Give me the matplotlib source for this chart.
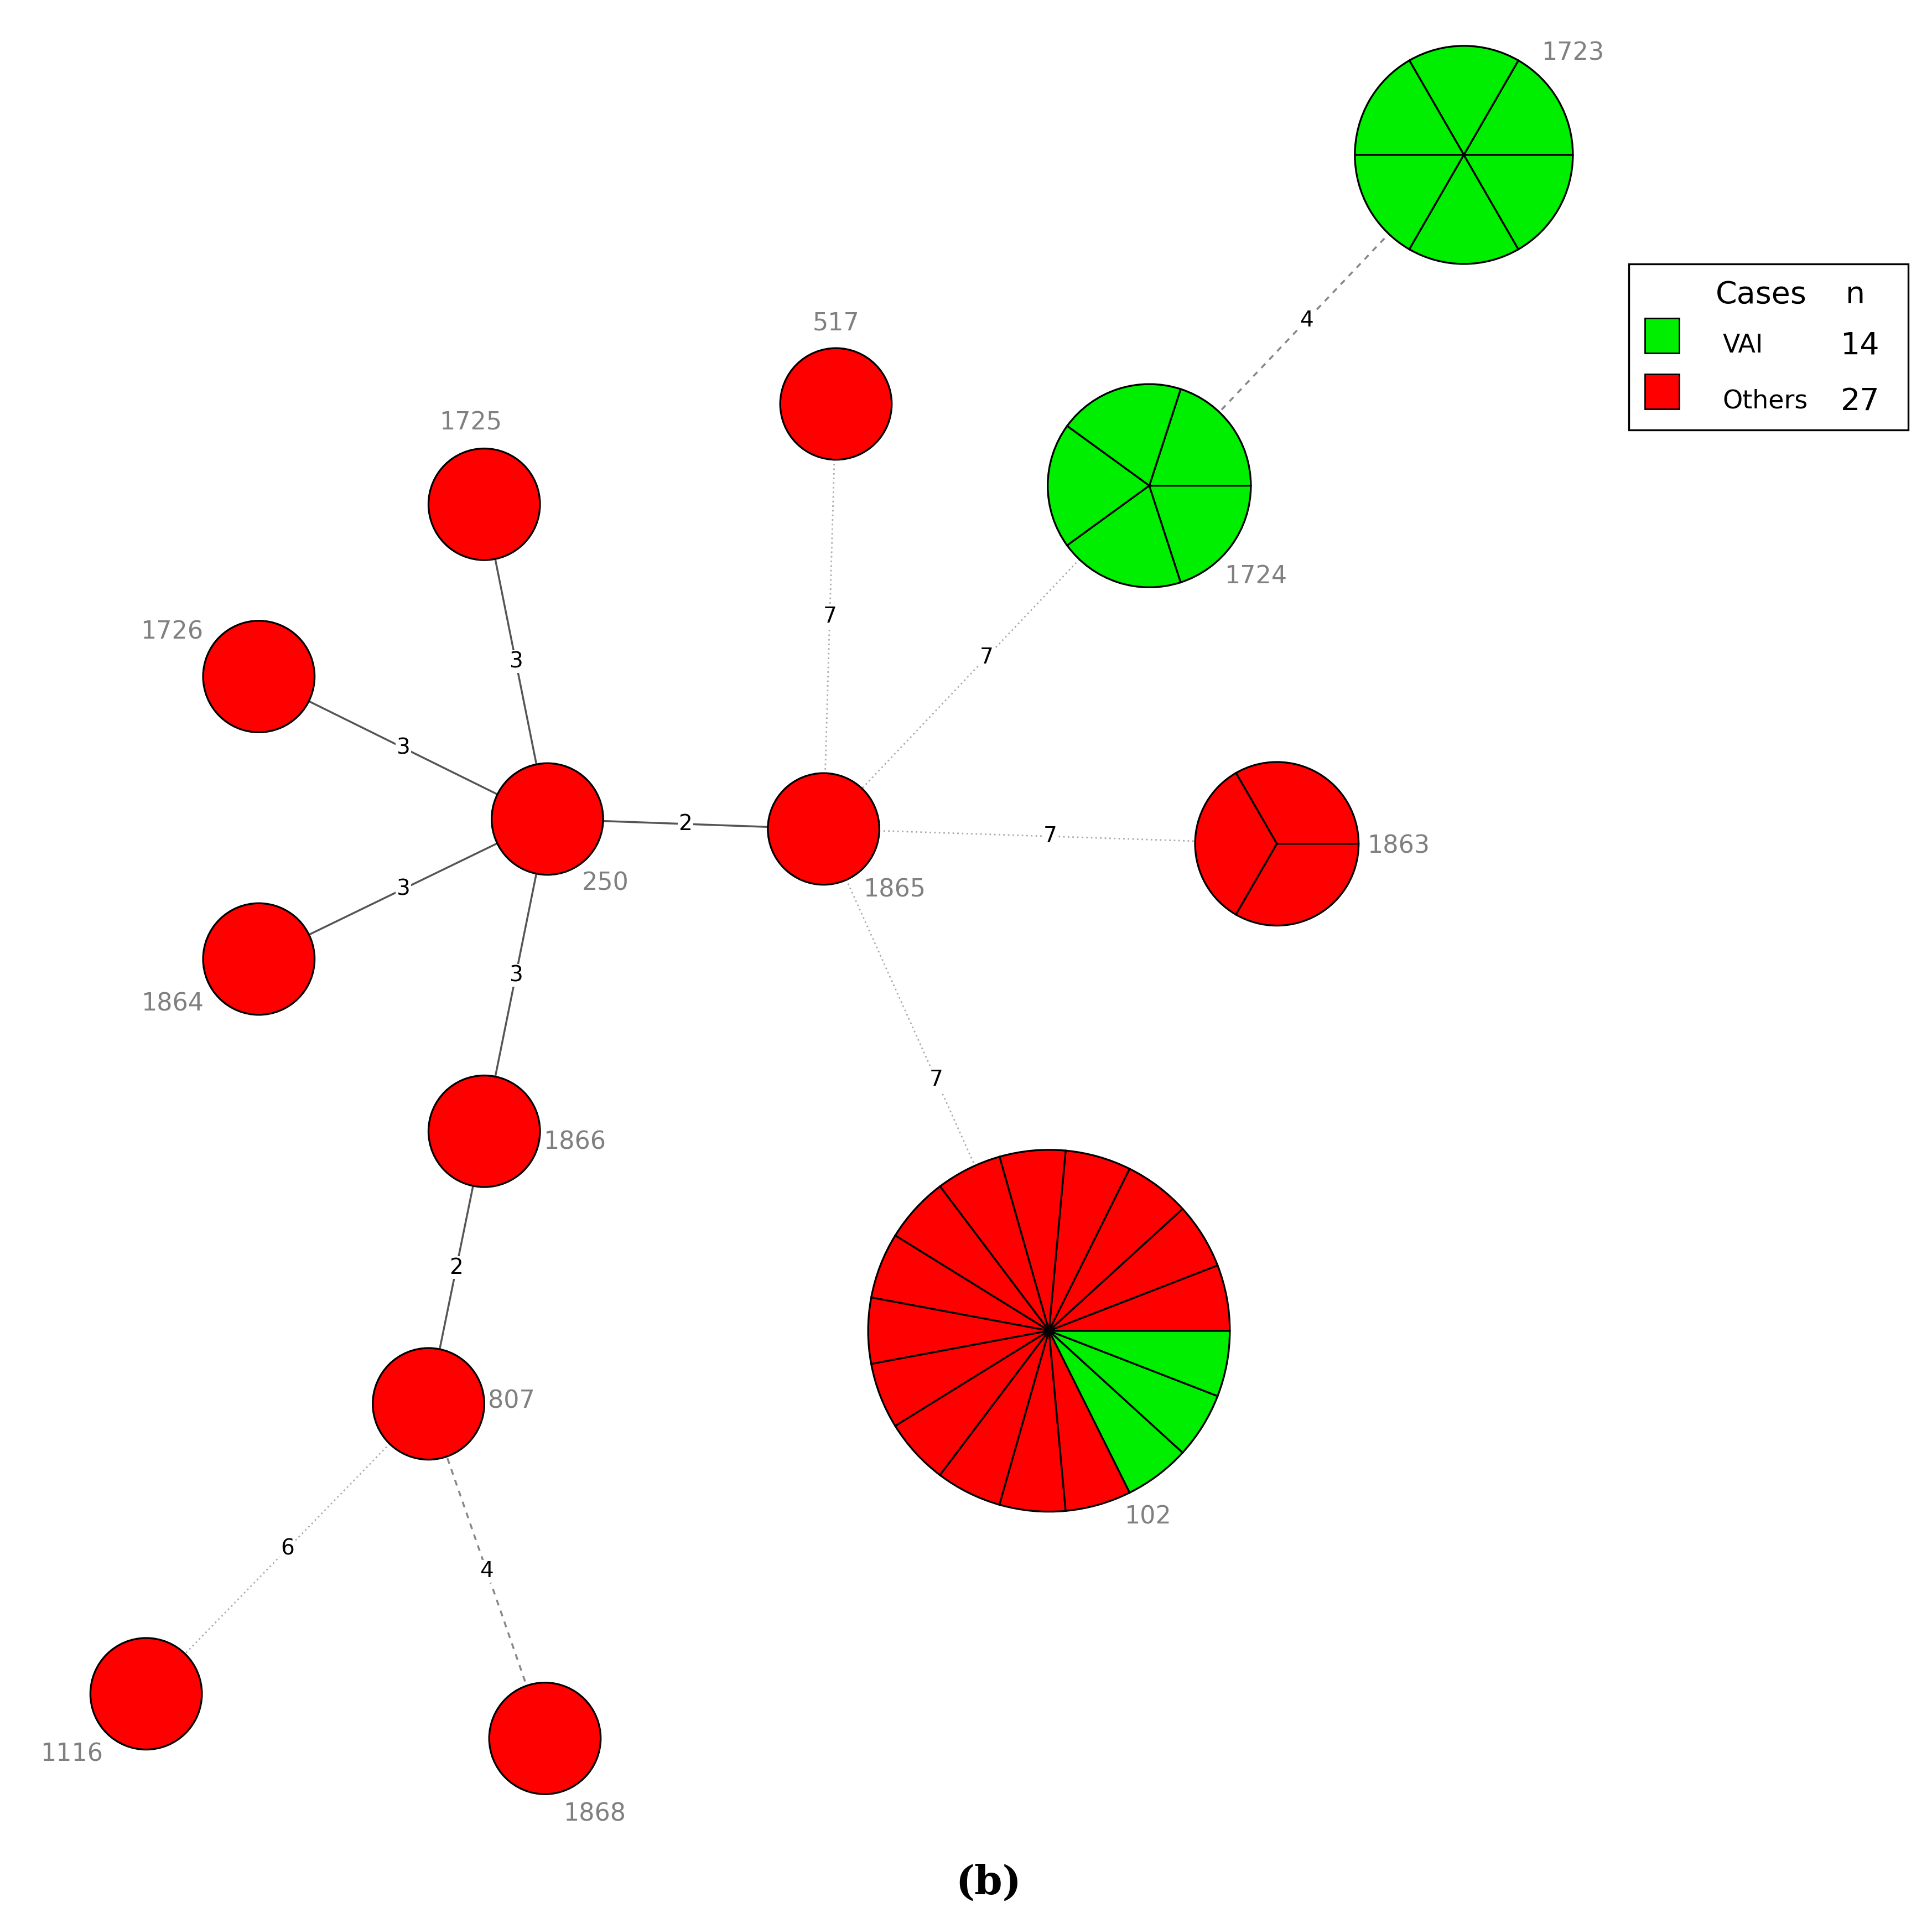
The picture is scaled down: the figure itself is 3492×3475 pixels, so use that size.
import matplotlib.pyplot as plt
from matplotlib.patches import Wedge, Circle, Rectangle

RED = '#ff0000'
GREEN = '#00ee00'

# nodes: name, x, y (pixel space of reference, y down), radius, n_vai, n_others
names = ['1723', '1724', '517', '1725', '1726', '250', '1865', '1863',
         '1864', '1866', '807', '102', '1116', '1868']
xs = [1182, 928, 675, 391, 209, 442, 665, 1031, 209, 391, 346, 847, 118, 440]
ys = [125, 392, 326, 407, 546, 661, 669, 681, 774, 913, 1133, 1074, 1367, 1403]
radii = [88, 82, 45, 45, 45, 45, 45, 66, 45, 45, 45, 146, 45, 45]
n_vai = [6, 5, 0, 0, 0, 0, 0, 0, 0, 0, 0, 3, 0, 0]
n_oth = [0, 0, 1, 1, 1, 1, 1, 3, 1, 1, 1, 14, 1, 1]
label_x = [1270, 1014, 675, 380, 139, 489, 722, 1129, 139, 464, 413, 927, 58, 480]
label_y = [43, 465, 261, 341, 510, 713, 718, 683, 810, 922, 1131, 1224, 1416, 1464]

edges = [('1723', '1724', 4), ('1724', '1865', 7), ('517', '1865', 7),
         ('1725', '250', 3), ('1726', '250', 3), ('1864', '250', 3),
         ('250', '1865', 2), ('250', '1866', 3), ('1865', '1863', 7),
         ('1865', '102', 7), ('1866', '807', 2), ('807', '1116', 6),
         ('807', '1868', 4)]

H = 1552
fig = plt.figure(figsize=(34.92, 34.75), dpi=100)
ax = fig.add_axes([0, 0, 1, 1])
ax.set_xlim(0, 1560)
ax.set_ylim(0, H)
ax.axis('off')

idx = {n: i for i, n in enumerate(names)}

for a, b, w in edges:
    i, j = idx[a], idx[b]
    x1, y1, x2, y2 = xs[i], H - ys[i], xs[j], H - ys[j]
    if w <= 3:
        ax.plot([x1, x2], [y1, y2], color='#555555', lw=2.5, zorder=1)
    elif w == 4:
        ax.plot([x1, x2], [y1, y2], color='#888888', lw=2.5, ls=(0, (3, 3)), zorder=1)
    else:
        ax.plot([x1, x2], [y1, y2], color='#aaaaaa', lw=2, ls=(0, (1, 2)), zorder=1)
    ax.text((x1 + x2) / 2, (y1 + y2) / 2, str(w), fontsize=28, ha='center',
            va='center', zorder=2,
            bbox=dict(facecolor='white', edgecolor='none', pad=1))

for i, n in enumerate(names):
    cx, cy, r = xs[i], H - ys[i], radii[i]
    tot = n_vai[i] + n_oth[i]
    if tot == 1:
        ax.add_patch(Circle((cx, cy), r, facecolor=RED if n_oth[i] else GREEN,
                            edgecolor='black', lw=2.4, zorder=3))
    else:
        step = 360 / tot
        if n == '102':
            start = -n_vai[i] * step
        else:
            start = 0
        colors = [GREEN] * n_vai[i] + [RED] * n_oth[i]
        for k, c in enumerate(colors):
            ax.add_patch(Wedge((cx, cy), r, start + k * step, start + (k + 1) * step,
                               facecolor=c, edgecolor='black', lw=2.4, zorder=3))
    ax.text(label_x[i], H - label_y[i], n, fontsize=32, color='#808080',
            ha='center', va='center', zorder=4)

# legend
ax.add_patch(Rectangle((1315, H - 347), 226, 134, facecolor='white',
                       edgecolor='black', lw=2.4, zorder=5))
ax.text(1422, H - 238, 'Cases', fontsize=40, ha='center', va='center', zorder=6)
ax.text(1498, H - 238, 'n', fontsize=40, ha='center', va='center', zorder=6)
leg_names = ['VAI', 'Others']
leg_counts = [sum(n_vai), sum(n_oth)]
for k, (ln, lc, col) in enumerate(zip(leg_names, leg_counts, [GREEN, RED])):
    yy = H - (271 + k * 45)
    ax.add_patch(Rectangle((1328, yy - 14), 28, 28, facecolor=col,
                           edgecolor='black', lw=2, zorder=6))
    ax.text(1391, yy - 8, ln, fontsize=33, ha='left', va='center', zorder=6)
    ax.text(1502, yy - 8, str(lc), fontsize=40, ha='center', va='center', zorder=6)

ax.text(798, H - 1520, '(b)', fontsize=52, fontweight='bold', family='serif',
        ha='center', va='center')

fig.savefig('out.png', dpi=100)
